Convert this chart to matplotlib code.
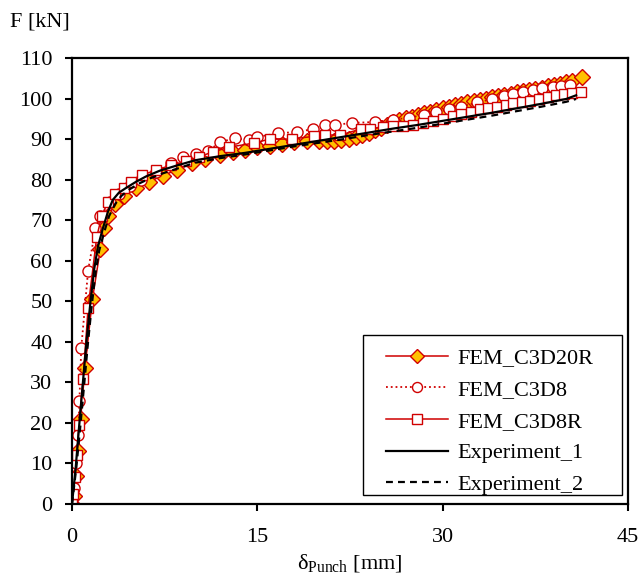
import matplotlib
matplotlib.use('Agg')
import matplotlib.pyplot as plt
from matplotlib.patches import Rectangle

plt.rcParams['font.family'] = ['Liberation Serif', 'DejaVu Serif']
plt.rcParams['mathtext.fontset'] = 'custom'
plt.rcParams['mathtext.rm'] = 'Liberation Serif'
plt.rcParams['mathtext.it'] = 'Liberation Serif:italic'

# ---- data ----
x_c3d20r = [0, 0.15, 0.3, 0.5, 0.7, 1.05, 1.65, 2.3, 2.6, 2.9, 3.5, 4.2, 5.2, 6.2, 7.4,
            8.5, 9.7, 10.8, 12.0, 13.0, 14.0, 15.0, 16.0, 17.0, 18.0, 19.0, 20.0, 20.6,
            21.2, 21.8, 22.4, 23.0, 23.5, 24.0, 24.5, 25.0, 25.5, 26.0, 26.5, 27.0, 27.5,
            28.0, 28.5, 29.0, 29.5, 30.0, 30.5, 31.0, 31.5, 32.0, 32.5, 33.0, 33.5, 34.0,
            34.5, 35.0, 35.5, 36.0, 36.5, 37.0, 37.5, 38.0, 38.5, 39.0, 39.5, 40.0, 40.5, 41.3]
f_c3d20r = [0, 2, 7, 13, 21, 33.5, 50.5, 63, 68, 71, 74, 76, 78, 79.5, 81,
            82.5, 84, 85, 86, 86.7, 87.3, 88, 88.3, 88.7, 89.2, 89.5, 89.5, 89.6,
            89.6, 89.7, 90, 90.5, 91, 91.5, 92.2, 92.8, 93.5, 94.2, 94.7, 95.1, 95.5,
            96, 96.4, 96.8, 97.2, 97.6, 98, 98.3, 98.7, 99.1, 99.4, 99.7, 100, 100.3,
            100.6, 100.9, 101.2, 101.5, 101.8, 102.1, 102.4, 102.7, 103, 103.3, 103.7, 104, 104.4, 105.3]

x_c3d8 = [0, 0.2, 0.35, 0.5, 0.6, 0.75, 1.3, 1.9, 2.3, 3.1, 3.8, 4.7, 5.6, 6.8, 8.0,
          9.0, 10.0, 11.0, 12.0, 13.2, 14.3, 15.0, 16.7, 18.2, 19.5, 20.5, 21.3, 22.7,
          24.5, 26.0, 27.3, 28.5, 29.5, 30.5, 31.5, 32.8, 34.0, 35.0, 35.7, 36.5, 37.3,
          38.0, 38.9, 39.6, 40.3]
f_c3d8 = [0, 4, 10, 17, 25.5, 38.5, 57.5, 68, 71, 74.5, 76.5, 78.5, 80, 82, 84,
          85.5, 86.3, 87, 89.3, 90.2, 89.8, 90.5, 91.5, 91.7, 92.5, 93.5, 93.5, 94,
          94.2, 94.8, 95.3, 96, 96.7, 97.3, 98, 99.1, 99.8, 100.6, 101.1, 101.6, 102.1,
          102.6, 102.8, 103, 103.3]

x_c3d8r = [0, 0.1, 0.25, 0.4, 0.55, 0.9, 1.3, 2.0, 2.4, 2.9, 3.5, 4.2, 4.8, 5.7, 6.8,
           8.0, 9.2, 10.3, 11.4, 12.7, 14.7, 16.0, 17.8, 19.6, 20.5, 21.7, 23.4, 24.1,
           25.2, 26.0, 26.8, 27.6, 28.4, 29.2, 30.0, 30.8, 31.5, 32.3, 33.0, 33.7, 34.4,
           35.1, 35.7, 36.4, 37.1, 37.8, 38.5, 39.2, 39.8, 40.5, 41.2]
f_c3d8r = [0, 2.5, 6.7, 12, 19.5, 30.8, 48.3, 65.8, 71, 74.5, 76.5, 78, 79.4, 81.1, 82.4,
           83.5, 84.5, 85.7, 86.8, 88, 89, 90, 90, 90.7, 91, 91, 92.5, 92.5,
           93, 93.2, 93.3, 93.5, 94, 94.5, 95, 95.6, 96.2, 96.8, 97.3, 97.7, 98,
           98.4, 98.9, 99.2, 99.5, 100, 100.3, 100.8, 101.1, 101.4, 101.6]

x_exp1 = [0, 0.3, 0.6, 0.9, 1.2, 1.5, 1.8, 2.1, 2.5, 2.9, 3.3, 3.8, 4.4, 5.2, 6.0, 7.1,
          8.5, 10, 12, 14, 16, 18, 20, 22, 24, 26, 28, 30, 32, 34, 36, 38, 40, 40.8]
f_exp1 = [0, 9, 20, 30.6, 41, 50, 58, 63.5, 68, 72, 75, 76.8, 78, 79.5, 80.8, 82.2,
          83.5, 84.8, 85.8, 86.6, 87.6, 88.6, 89.6, 90.6, 91.6, 92.6, 93.5, 94.5, 95.5,
          96.5, 97.6, 98.7, 99.9, 100.8]

x_exp2 = [0, 0.35, 0.7, 1.0, 1.3, 1.6, 1.9, 2.2, 2.6, 3.0, 3.5, 4.0, 4.6, 5.4, 6.3, 7.4,
          8.8, 10, 12, 14, 16, 18, 20, 22, 24, 26, 28, 30, 32, 34, 36, 38, 40, 40.8]
f_exp2 = [0, 9, 20, 30, 40, 49, 57, 62.5, 67, 71, 74, 76, 77.5, 79, 80.3, 81.6,
          83, 84.2, 85.3, 86.2, 87.2, 88.2, 89.1, 90, 91, 91.9, 92.8, 93.8, 94.8,
          95.8, 96.9, 98, 99.2, 99.9]

red = '#D00000'
orange = '#FFC000'
fs = 16

fig = plt.figure(figsize=(6.43, 5.75), dpi=100)
ax = fig.add_axes([72/643, 1-504/575, 556/643, 446/575])

ax.plot(x_c3d20r, f_c3d20r, '-', color=red, lw=1.1, marker='D', ms=8,
        mfc=orange, mec=red, mew=1.0, label='FEM_C3D20R')
ax.plot(x_c3d8, f_c3d8, ':', color=red, lw=1.3, marker='o', ms=8,
        mfc='white', mec=red, mew=1.0, label='FEM_C3D8')
ax.plot(x_c3d8r, f_c3d8r, '-', color=red, lw=1.1, marker='s', ms=7.5,
        mfc='white', mec=red, mew=1.0, label='FEM_C3D8R')
ax.plot(x_exp1, f_exp1, '-', color='black', lw=1.6, label='Experiment_1')
ax.plot(x_exp2, f_exp2, '--', color='black', lw=1.6, dashes=(3.1, 2.3), label='Experiment_2')

ax.set_xlim(0, 45)
ax.set_ylim(0, 110)
ax.set_xticks([0, 15, 30, 45])
ax.set_yticks(range(0, 111, 10))
ax.tick_params(direction='out', length=5, width=1.5, labelsize=fs)
ax.tick_params(axis='x', pad=12)
ax.tick_params(axis='y', pad=9)
ax.tick_params(top=False, right=False)
for s in ax.spines.values():
    s.set_linewidth(1.6)

ax.set_xlabel(r'δ$_{\mathrm{Punch}}$ [mm]', fontsize=fs, labelpad=4)
fig.text(10/643, 1-22/575, 'F [kN]', fontsize=fs, va='center', ha='left')

# legend box drawn separately so its padding can match the reference
lx0, lx1 = (363-72)/556, (622-72)/556
ly0, ly1 = (504-495)/446, (504-335)/446
ax.add_patch(Rectangle((lx0, ly0), lx1-lx0, ly1-ly0, transform=ax.transAxes,
                       facecolor='white', edgecolor='black', lw=1.0, zorder=4))
leg = ax.legend(loc='center', bbox_to_anchor=((lx0+lx1)/2 - 0.005, (ly0+ly1)/2 - 0.0145),
                fontsize=fs, frameon=False, handlelength=2.8, markerscale=0.9,
                labelspacing=0.5, borderpad=0.0, handletextpad=0.4)
leg.set_zorder(5)

fig.savefig('out.png', dpi=100, facecolor='white')
